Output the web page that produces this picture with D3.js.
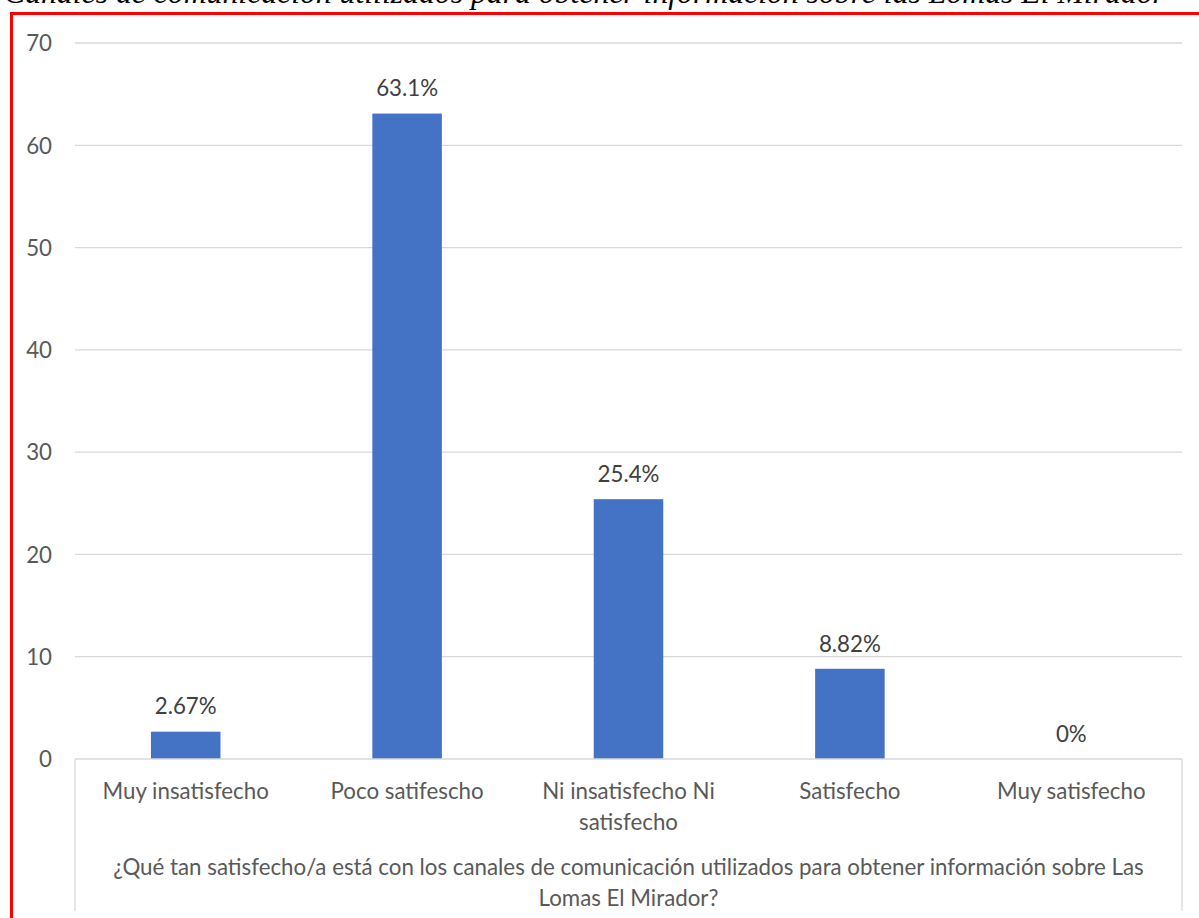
<!DOCTYPE html>
<html>
<head>
<meta charset="utf-8">
<script src="https://cdn.jsdelivr.net/npm/d3@7"></script>
<style>
  html, body { margin: 0; padding: 0; background: #ffffff; overflow: hidden; }
  svg { display: block; }
</style>
</head>
<body>
<svg id="chart" width="1199" height="918"></svg>
<script>
const titleText = "Canales de comunicación utilizados para obtener información sobre las Lomas El Mirador";
const categories = ["Muy insatisfecho", "Poco satifescho", "Ni insatisfecho Ni satisfecho", "Satisfecho", "Muy satisfecho"];
const categoryLines = [["Muy insatisfecho"], ["Poco satifescho"], ["Ni insatisfecho Ni", "satisfecho"], ["Satisfecho"], ["Muy satisfecho"]];
const values = [2.67, 63.1, 25.4, 8.82, 0];
const valueLabels = ["2.67%", "63.1%", "25.4%", "8.82%", "0%"];
const yTicks = [0, 10, 20, 30, 40, 50, 60, 70];
const axisTitleLines = ["¿Qué tan satisfecho/a está con los canales de comunicación utilizados para obtener información sobre Las", "Lomas El Mirador?"];

const svg = d3.select("#chart");
const font = "Lato, 'Open Sans', sans-serif";
const fs = 22.3;

const plotLeft = 75, plotRight = 1182, plotTop = 43, plotBase = 759;
const x = d3.scaleBand().domain(categories).range([plotLeft, plotRight]).paddingInner(0.686).paddingOuter(0.343);
const y = d3.scaleLinear().domain([0, 70]).range([plotBase, plotTop]);

// title (clipped at top, as in the source image)
const title = svg.append("text")
  .attr("x", 4).attr("y", 3)
  .attr("font-family", "'Liberation Serif', 'Times New Roman', serif")
  .attr("font-style", "italic")
  .attr("font-size", 28)
  .attr("fill", "#000")
  .text(titleText);
const tw = title.node().getComputedTextLength();
title.attr("font-size", 28 * 1161 / tw);

// red frame
svg.append("rect")
  .attr("x", 11.5).attr("y", 13.5)
  .attr("width", 1250).attr("height", 1000)
  .attr("fill", "none").attr("stroke", "#ff0000").attr("stroke-width", 3);

// gridlines
svg.append("g").selectAll("line").data(yTicks.filter(d => d > 0)).join("line")
  .attr("x1", plotLeft).attr("x2", plotRight)
  .attr("y1", d => y(d)).attr("y2", d => y(d))
  .attr("stroke", "#d9d9d9").attr("stroke-width", 1.3);

// y axis labels
const yAxis = d3.axisLeft(y).tickValues(yTicks).tickSize(0).tickPadding(0).tickFormat(d3.format("d"));
const yg = svg.append("g").attr("transform", "translate(52,0)").call(yAxis);
yg.select(".domain").remove();
yg.selectAll("text").attr("font-family", font).attr("font-size", fs).attr("fill", "#595959").attr("dy", "0.35em");

// bars
svg.append("g").selectAll("rect").data(values).join("rect")
  .attr("x", (d, i) => x(categories[i]))
  .attr("width", x.bandwidth())
  .attr("y", d => y(d))
  .attr("height", d => y(0) - y(d))
  .attr("fill", "#4472c4");

// baseline + category box lines
svg.append("line").attr("x1", plotLeft).attr("x2", plotRight).attr("y1", plotBase).attr("y2", plotBase)
  .attr("stroke", "#d9d9d9").attr("stroke-width", 1.3);
[plotLeft, plotRight].forEach(px => {
  svg.append("line").attr("x1", px).attr("x2", px).attr("y1", plotBase).attr("y2", 911)
    .attr("stroke", "#d9d9d9").attr("stroke-width", 1.3);
});

// data labels
svg.append("g").selectAll("text").data(values).join("text")
  .attr("x", (d, i) => x(categories[i]) + x.bandwidth() / 2)
  .attr("y", d => y(d) - 25)
  .attr("dy", "0.35em")
  .attr("text-anchor", "middle")
  .attr("font-family", font).attr("font-size", fs).attr("fill", "#404040")
  .text((d, i) => valueLabels[i]);

// category labels
const cg = svg.append("g").selectAll("text").data(categories).join("text")
  .attr("text-anchor", "middle")
  .attr("font-family", font).attr("font-size", fs).attr("fill", "#595959");
cg.each(function(d, i) {
  d3.select(this).selectAll("tspan").data(categoryLines[i]).join("tspan")
    .attr("x", x(d) + x.bandwidth() / 2)
    .attr("y", (l, j) => 791 + j * 31)
    .attr("dy", "0.35em")
    .text(l => l);
});

// axis title
svg.append("g").selectAll("text").data(axisTitleLines).join("text")
  .attr("x", (plotLeft + plotRight) / 2)
  .attr("y", (d, i) => 867 + i * 31)
  .attr("dy", "0.35em")
  .attr("text-anchor", "middle")
  .attr("font-family", font).attr("font-size", fs).attr("fill", "#595959")
  .text(d => d);
</script>
</body>
</html>
